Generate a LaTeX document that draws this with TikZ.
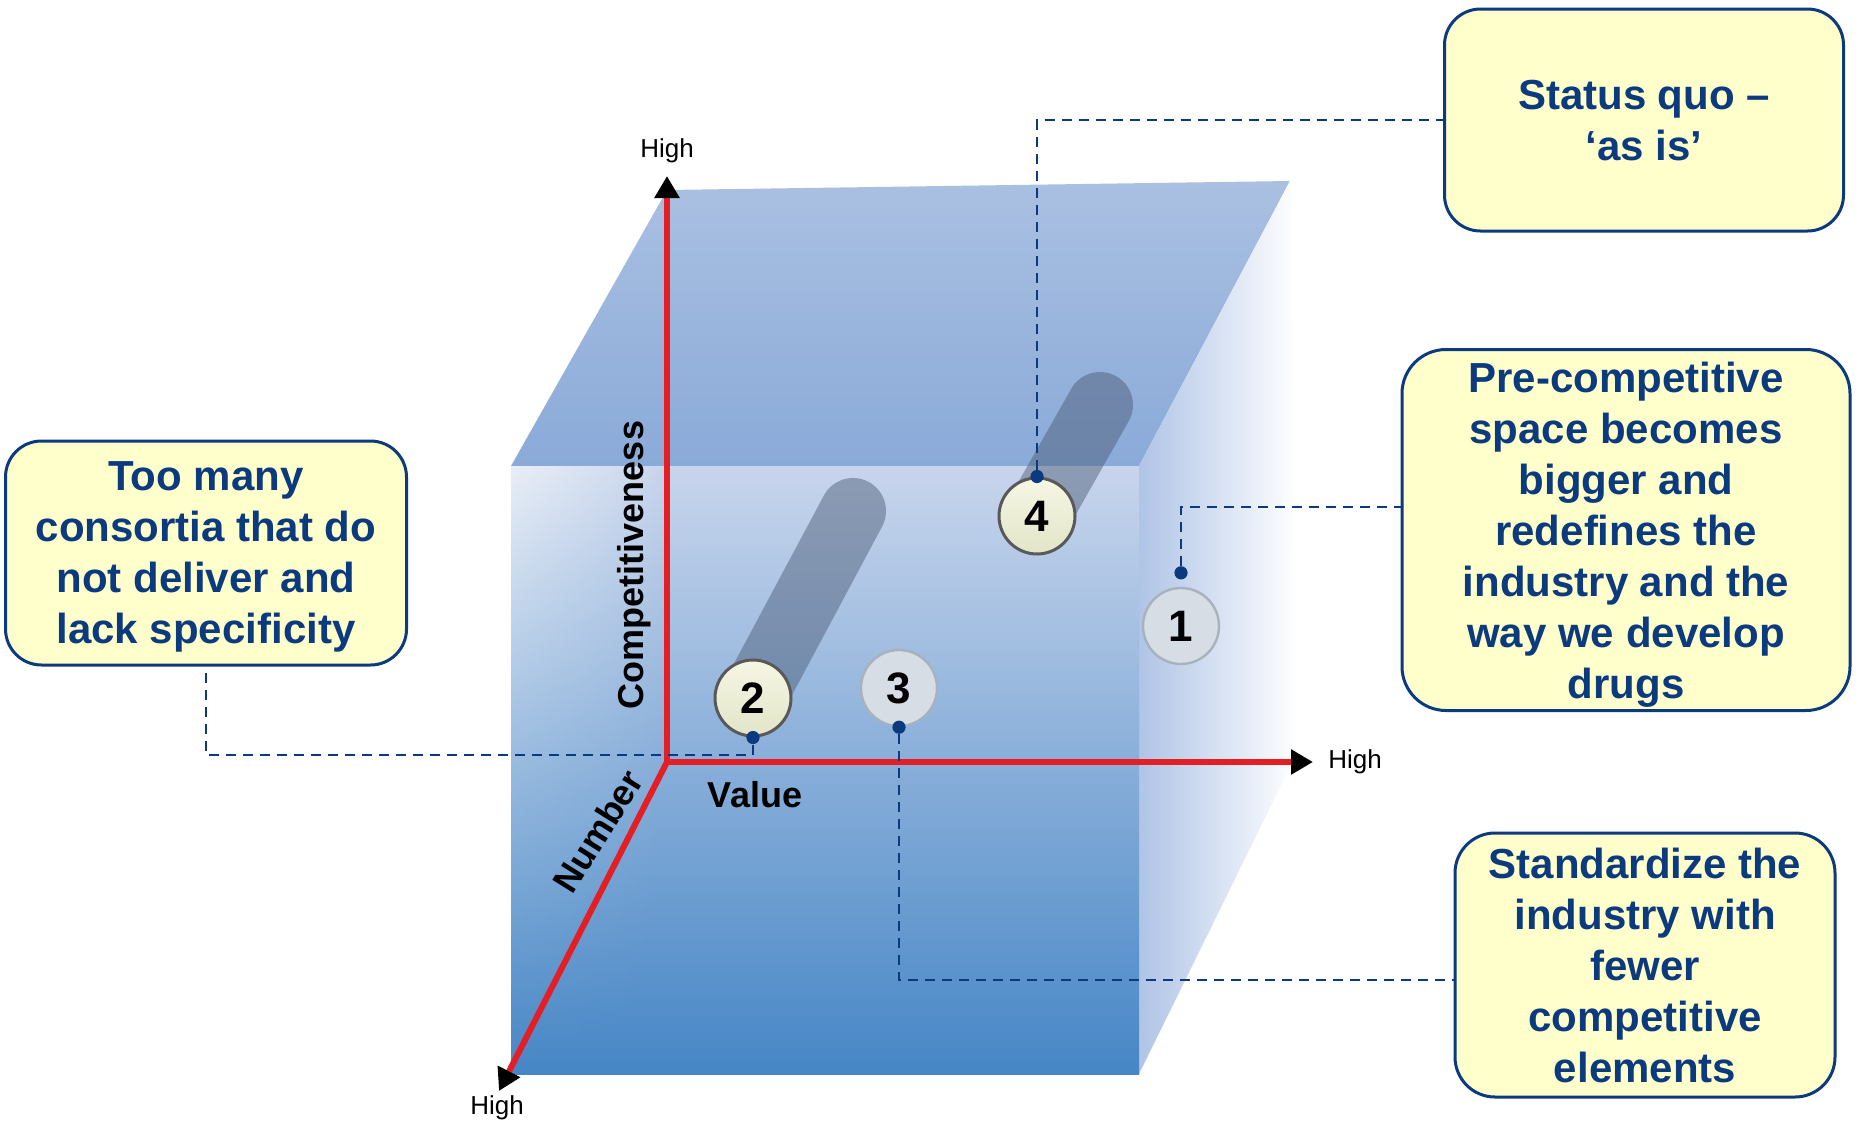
\documentclass[tikz,border=0pt]{standalone}
\usepackage{fontspec}
\setmainfont{Liberation Sans}
\usetikzlibrary{arrows.meta,fadings}
\definecolor{navy}{RGB}{11,58,126}
\definecolor{notefill}{RGB}{255,255,204}
\definecolor{axisred}{RGB}{227,30,36}
\definecolor{shadowgray}{RGB}{70,86,112}
\definecolor{frontlow}{RGB}{70,134,198}

\begin{document}
\begin{tikzpicture}[x=0.5pt,y=-0.5pt,
  note/.style={draw=navy,line width=1.5pt,fill=notefill,rounded corners=18pt,
    text=navy,align=center,inner sep=0pt,text depth=0pt,
    font=\bfseries\fontsize{21}{25.5}\selectfont},
  ballA/.style={circle,draw=black!65,line width=1.5pt,inner sep=0pt,minimum size=38pt,
    top color={rgb,255:red,246;green,246;blue,228},bottom color={rgb,255:red,226;green,229;blue,200},
    font=\bfseries\fontsize{22}{22}\selectfont},
  ballB/.style={circle,draw={rgb,255:red,168;green,178;blue,190},line width=1.2pt,inner sep=0pt,
    minimum size=38pt,fill={rgb,255:red,214;green,221;blue,229},
    font=\bfseries\fontsize{22}{22}\selectfont},
  streak/.style={draw=shadowgray,draw opacity=0.45,line width=33pt,line cap=round},
  bead/.style={circle,fill=navy,inner sep=0pt,minimum size=6.6pt},
  leader/.style={draw=navy,line width=1pt,dash pattern=on 5pt off 3.5pt},
  axisline/.style={draw=axisred,line width=3pt,-{Triangle[length=11pt,width=12pt,color=black]}},
  axislabel/.style={font=\bfseries\fontsize{18}{18}\selectfont},
  highlabel/.style={font=\fontsize{13}{13}\selectfont}]
\useasboundingbox (0,0) rectangle (1864,1125);

% the cube
\shade[top color={rgb,255:red,170;green,192;blue,226},bottom color={rgb,255:red,138;green,170;blue,216}]
  (511,466) -- (667,190) -- (1290,181) -- (1139,466) -- cycle;
\shade[left color={rgb,255:red,176;green,196;blue,230},right color=white]
  (1139,466) -- (1290,181) -- (1297,753) -- (1139,1074) -- cycle;
\shade[top color={rgb,255:red,200;green,213;blue,236},middle color={rgb,255:red,92;green,143;blue,205},
  bottom color=frontlow]
  (511,466) rectangle (1139,1074);
\shade[top color=white,bottom color=frontlow,path fading=east,fill opacity=0.6]
  (511,466) rectangle (665,1074);

% axes
\coordinate (O) at (667,762);
\draw[axisline] (O) -- (667,176);
\draw[axisline] (O) -- (1313,762);
\draw[axisline] (O) -- (499,1091);
\node[highlabel] (yhigh) at (667,151) {High};
\node[highlabel] (xhigh) at (1355,762) {High};
\node[highlabel] (zhigh) at (497,1108) {High};
\node[axislabel,rotate=90] (ylab) at (634,565) {Competitiveness};
\node[axislabel] (xlab) at (755,795) {Value};
\node[axislabel,rotate=58] (zlab) at (598,831) {Number};

% shadows and balls
\draw[streak] (753,698) -- (853,511);
\draw[streak] (1037,516) -- (1100,405);
\node[ballB] (c1) at (1181,626) {1};
\node[ballA] (c2) at (753,698) {2};
\node[ballB] (c3) at (899,688) {3};
\node[ballA] (c4) at (1037,516) {4};

% notes
\node[note,minimum width=199.5pt,minimum height=111pt] (b1) at (1644,120)
  {Status quo –\\‘as is’};
\node[note,minimum width=224pt,minimum height=180.5pt,rounded corners=22pt] (b2) at (1626,530)
  {Pre-competitive\\space becomes\\bigger and\\redefines the\\industry and the\\way we develop\\drugs};
\node[note,minimum width=200.5pt,minimum height=112pt] (b3) at (206,553)
  {Too many\\consortia that do\\not deliver and\\lack specificity};
\node[note,minimum width=190pt,minimum height=132pt,rounded corners=20pt] (b4) at (1645,965)
  {Standardize the\\industry with\\fewer\\competitive\\elements};

% leaders
\node[bead] (d1) at ([yshift=7pt]c1.north) {};
\node[bead] (d2) at (c2.south) {};
\node[bead] (d3) at (c3.south) {};
\node[bead] (d4) at (c4.north) {};
\draw[leader] (d4) |- (b1.west);
\draw[leader] (d1) |- ([yshift=11.5pt]b2.west);
\draw[leader] (d2) -- ++(0,17) -| (b3.south);
\draw[leader] (d3) |- ([yshift=-7.5pt]b4.west);
\end{tikzpicture}
\end{document}
